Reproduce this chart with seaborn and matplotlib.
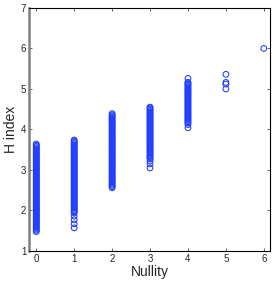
import pandas as pd
import matplotlib
matplotlib.use("Agg")
import matplotlib.pyplot as plt
import seaborn as sns

# H index values, one list per nullity value
h_null0 = [1.48, 1.51, 1.54, 1.57, 1.60, 1.63, 1.66, 1.69, 1.72, 1.75, 1.78, 1.81,
           1.84, 1.87, 1.90, 1.93, 1.96, 1.99, 2.02, 2.05, 2.08, 2.11, 2.14, 2.17,
           2.20, 2.23, 2.26, 2.29, 2.32, 2.35, 2.38, 2.41, 2.44, 2.47, 2.50, 2.53,
           2.56, 2.59, 2.62, 2.65, 2.68, 2.71, 2.74, 2.77, 2.80, 2.83, 2.86, 2.89,
           2.92, 2.95, 2.98, 3.01, 3.04, 3.07, 3.10, 3.13, 3.16, 3.19, 3.22, 3.25,
           3.28, 3.31, 3.34, 3.37, 3.40, 3.43, 3.46, 3.49, 3.52, 3.55, 3.58, 3.61,
           3.64]
h_null1 = [1.57, 1.67, 1.77, 1.86,
           1.94, 1.97, 2.00, 2.03, 2.06, 2.09, 2.12, 2.15, 2.18, 2.21, 2.24, 2.27,
           2.30, 2.33, 2.36, 2.39, 2.42, 2.45, 2.48, 2.51, 2.54, 2.57, 2.60, 2.63,
           2.66, 2.69, 2.72, 2.75, 2.78, 2.81, 2.84, 2.87, 2.90, 2.93, 2.96, 2.99,
           3.02, 3.05, 3.08, 3.11, 3.14, 3.17, 3.20, 3.23, 3.26, 3.29, 3.32, 3.35,
           3.38, 3.41, 3.44, 3.47, 3.50, 3.53, 3.56, 3.59, 3.62, 3.65, 3.68, 3.71,
           3.74]
h_null2 = [2.56, 2.59, 2.62, 2.65, 2.68, 2.71, 2.74, 2.77, 2.80, 2.83, 2.86, 2.89,
           2.92, 2.95, 2.98, 3.01, 3.04, 3.07, 3.10, 3.13, 3.16, 3.19, 3.22, 3.25,
           3.28, 3.31, 3.34, 3.37, 3.40, 3.43, 3.46, 3.49, 3.52, 3.55, 3.58, 3.61,
           3.64, 3.67, 3.70, 3.73, 3.76, 3.79, 3.82, 3.85, 3.88, 3.91, 3.94, 3.97,
           4.00, 4.03, 4.06, 4.09, 4.12, 4.15, 4.18, 4.21, 4.24, 4.27, 4.30, 4.33,
           4.36, 4.39]
h_null3 = [3.05, 3.15, 3.22,
           3.27, 3.30, 3.33, 3.36, 3.39, 3.42, 3.45, 3.48, 3.51, 3.54, 3.57, 3.60,
           3.63, 3.66, 3.69, 3.72, 3.75, 3.78, 3.81, 3.84, 3.87, 3.90, 3.93, 3.96,
           3.99, 4.02, 4.05, 4.08, 4.11, 4.14, 4.17, 4.20, 4.23, 4.26, 4.29, 4.32,
           4.35, 4.38, 4.41, 4.44, 4.47, 4.50, 4.53, 4.55]
h_null4 = [4.04, 4.12,
           4.16, 4.19, 4.22, 4.25, 4.28, 4.31, 4.34, 4.37, 4.40, 4.43, 4.46, 4.49,
           4.52, 4.55, 4.58, 4.61, 4.64, 4.67, 4.70, 4.73, 4.76, 4.79, 4.82, 4.85,
           4.88, 4.91, 4.94, 4.97, 5.00, 5.03, 5.06, 5.09, 5.12, 5.15, 5.16,
           5.26]
h_null5 = [5.00, 5.12, 5.16, 5.36]
h_null6 = [6.00]

nullity_levels = [0, 1, 2, 3, 4, 5, 6]
h_lists = [h_null0, h_null1, h_null2, h_null3, h_null4, h_null5, h_null6]

rows = []
for n, hs in zip(nullity_levels, h_lists):
    for h in hs:
        rows.append({"Nullity": n, "H index": h})
df = pd.DataFrame(rows)

sns.set_style("white")
plt.rcParams["font.family"] = ["Liberation Sans", "DejaVu Sans"]

fig = plt.figure(figsize=(2.74, 2.82), dpi=100)
ax = fig.add_axes([0.106, 0.110, 0.879, 0.862])

sns.scatterplot(data=df, x="Nullity", y="H index", ax=ax, marker="o",
                facecolors="none", edgecolor="#1f3cff", linewidth=0.75, s=17)

ax.set_xlim(-0.19, 6.16)
ax.set_ylim(1, 7)
ax.set_xticks(nullity_levels)
ax.set_yticks([1, 2, 3, 4, 5, 6, 7])
ax.tick_params(direction="in", length=2.5, width=0.5, labelsize=7, pad=2,
               top=True, right=True, bottom=True, left=True)
ax.set_xlabel("Nullity", fontsize=10, labelpad=1)
ax.set_ylabel("H index", fontsize=10, labelpad=2)

for side in ["top", "right", "bottom"]:
    ax.spines[side].set_color("black")
    ax.spines[side].set_linewidth(0.8)
ax.spines["left"].set_color("#808080")
ax.spines["left"].set_linewidth(1.8)

fig.savefig("out.png", dpi=100)
